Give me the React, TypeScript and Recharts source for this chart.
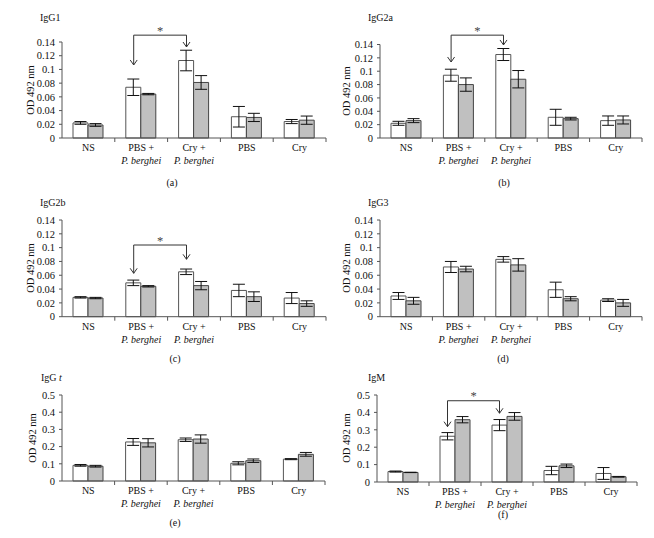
import React from 'react';
import { BarChart, Bar, XAxis, YAxis, ErrorBar, ReferenceLine } from 'recharts';

const FONT = '"Liberation Serif", "DejaVu Serif", serif';
const TXT = '#111';
const AX = '#555';

// ---------- data ----------
const categories = ['NS', 'PBS + P. berghei', 'Cry + P. berghei', 'PBS', 'Cry'];
const labelTop = ['NS', 'PBS +', 'Cry +', 'PBS', 'Cry'];
const labelBottom = ['', 'P. berghei', 'P. berghei', '', ''];

const iggTicks = [0, 0.02, 0.04, 0.06, 0.08, 0.1, 0.12, 0.14];
const totalTicks = [0, 0.1, 0.2, 0.3, 0.4, 0.5];

const igg1White = [0.022, 0.074, 0.113, 0.031, 0.024];
const igg1WhiteErr = [0.002, 0.012, 0.015, 0.015, 0.003];
const igg1Gray = [0.019, 0.064, 0.081, 0.030, 0.026];
const igg1GrayErr = [0.002, 0.001, 0.010, 0.006, 0.006];
const igg1Bracket = [0.150, 0.1065, 0.1327];

const igg2aWhite = [0.022, 0.094, 0.125, 0.031, 0.026];
const igg2aWhiteErr = [0.003, 0.009, 0.009, 0.012, 0.007];
const igg2aGray = [0.026, 0.080, 0.088, 0.029, 0.027];
const igg2aGrayErr = [0.003, 0.010, 0.013, 0.002, 0.006];
const igg2aBracket = [0.154, 0.1138, 0.1393];

const igg2bWhite = [0.028, 0.049, 0.065, 0.038, 0.027];
const igg2bWhiteErr = [0.001, 0.004, 0.004, 0.009, 0.008];
const igg2bGray = [0.027, 0.044, 0.045, 0.029, 0.019];
const igg2bGrayErr = [0.001, 0.001, 0.006, 0.007, 0.004];
const igg2bBracket = [0.1038, 0.0628, 0.0831];

const igg3White = [0.030, 0.072, 0.083, 0.039, 0.024];
const igg3WhiteErr = [0.005, 0.008, 0.004, 0.011, 0.002];
const igg3Gray = [0.023, 0.069, 0.075, 0.026, 0.020];
const igg3GrayErr = [0.005, 0.004, 0.009, 0.003, 0.005];

const iggtWhite = [0.091, 0.227, 0.240, 0.103, 0.127];
const iggtWhiteErr = [0.005, 0.020, 0.010, 0.009, 0.003];
const iggtGray = [0.086, 0.222, 0.244, 0.118, 0.155];
const iggtGrayErr = [0.005, 0.024, 0.024, 0.010, 0.011];

const igmWhite = [0.060, 0.263, 0.327, 0.066, 0.049];
const igmWhiteErr = [0.003, 0.021, 0.032, 0.024, 0.034];
const igmGray = [0.055, 0.358, 0.377, 0.093, 0.030];
const igmGrayErr = [0.001, 0.018, 0.022, 0.010, 0.002];
const igmBracket = [0.467, 0.318, 0.395];

// ---------- helpers ----------
function buildRows(white: number[], whiteErr: number[], gray: number[], grayErr: number[]) {
  return categories.map((c, i) => ({ name: c, w: white[i], we: whiteErr[i], g: gray[i], ge: grayErr[i] }));
}

const BAR = 15;
const SHIFT = -BAR / 2;
const TICK_SIZE = 4;

function makeCatTick(band: number) {
  return (props: any) => {
    const { x, y, payload } = props;
    const i = categories.indexOf(payload.value);
    const axisY = y - TICK_SIZE;
    return (
      <g>
        <line x1={x + band / 2} x2={x + band / 2} y1={axisY} y2={axisY + 4} stroke={AX} strokeWidth={1} />
        <text x={x} y={axisY + 13} textAnchor="middle" fontFamily={FONT} fontSize={10} fill={TXT}>
          {labelTop[i]}
        </text>
        {labelBottom[i] ? (
          <text x={x} y={axisY + 26} textAnchor="middle" fontFamily={FONT} fontSize={10} fontStyle="italic" fill={TXT}>
            {labelBottom[i]}
          </text>
        ) : null}
      </g>
    );
  };
}

const hShape = (p: any) => {
  const x1 = p.x1 + SHIFT;
  const x2 = p.x2 + SHIFT;
  return (
    <g>
      <line x1={x1} y1={p.y1} x2={x2} y2={p.y2} stroke="#333" strokeWidth={1} />
      <text x={(x1 + x2) / 2} y={p.y1 - 0.5} textAnchor="middle" fontFamily={FONT} fontSize={12.5} fill="#444">
        *
      </text>
    </g>
  );
};

const legShape = (p: any) => {
  const x = p.x1 + SHIFT;
  return (
    <g>
      <line x1={x} y1={p.y1} x2={x} y2={p.y2} stroke="#333" strokeWidth={1} />
      <polyline points={`${x - 3.5},${p.y2 - 5} ${x},${p.y2} ${x + 3.5},${p.y2 - 5}`} fill="none" stroke="#333" strokeWidth={1} />
    </g>
  );
};

type PanelProps = {
  left: number;
  top: number;
  height: number;
  plotLeft: number;
  plotRight: number;
  plotTop: number;
  plotBottom: number;
  rows: any[];
  ticks: number[];
  domainMax: number;
  bracket?: number[];
};

function Panel({ left, top, height, plotLeft, plotRight, plotTop, plotBottom, rows, ticks, domainMax, bracket }: PanelProps) {
  const W = 327;
  const xAxisH = 40;
  const margin = {
    top: plotTop - top,
    left: 0,
    right: left + W - plotRight,
    bottom: top + height - plotBottom - xAxisH,
  };
  const yAxisW = plotLeft - left;
  const band = (plotRight - plotLeft) / categories.length;
  return (
    <div style={{ position: 'absolute', left, top, width: W, height }}>
      <BarChart width={W} height={height} data={rows} margin={margin} barGap={0} barSize={BAR}>
        <XAxis
          dataKey="name"
          height={xAxisH}
          interval={0}
          tickSize={TICK_SIZE}
          tickMargin={0}
          tickLine={false}
          axisLine={{ stroke: AX }}
          tick={makeCatTick(band)}
        />
        <YAxis
          width={yAxisW}
          domain={[0, domainMax]}
          ticks={ticks}
          interval={0}
          tickSize={3}
          tickMargin={4}
          axisLine={{ stroke: AX }}
          tickLine={{ stroke: AX }}
          tick={{ fontSize: 10.5, fill: TXT, fontFamily: FONT }}
          tickFormatter={(v: number) => String(v)}
        />
        <Bar dataKey="w" fill="#ffffff" stroke="#555" strokeWidth={1} isAnimationActive={false}>
          <ErrorBar dataKey="we" width={6} stroke="#111" strokeWidth={1} direction="y" />
        </Bar>
        <Bar dataKey="g" fill="#c0c0c0" stroke="#444" strokeWidth={1} isAnimationActive={false}>
          <ErrorBar dataKey="ge" width={6} stroke="#111" strokeWidth={1} direction="y" />
        </Bar>
        {bracket ? (
          <ReferenceLine
            segment={[{ x: categories[1], y: bracket[0] }, { x: categories[2], y: bracket[0] }]}
            position="middle"
            ifOverflow="visible"
            shape={hShape}
          />
        ) : null}
        {bracket ? (
          <ReferenceLine
            segment={[{ x: categories[1], y: bracket[0] }, { x: categories[1], y: bracket[1] }]}
            position="middle"
            ifOverflow="visible"
            shape={legShape}
          />
        ) : null}
        {bracket ? (
          <ReferenceLine
            segment={[{ x: categories[2], y: bracket[0] }, { x: categories[2], y: bracket[2] }]}
            position="middle"
            ifOverflow="visible"
            shape={legShape}
          />
        ) : null}
      </BarChart>
    </div>
  );
}

const titles = [
  { x: 40, y: 21, text: 'IgG1' },
  { x: 368, y: 21, text: 'IgG2a' },
  { x: 40, y: 206, text: 'IgG2b' },
  { x: 368, y: 206, text: 'IgG3' },
  { x: 368, y: 381, text: 'IgM' },
];
const captions = [
  { x: 172, y: 186, text: '(a)' },
  { x: 504, y: 186, text: '(b)' },
  { x: 175, y: 362, text: '(c)' },
  { x: 503, y: 362, text: '(d)' },
  { x: 175, y: 526, text: '(e)' },
  { x: 503, y: 518, text: '(f)' },
];
const yLabels = [
  { x: 30, y: 90 },
  { x: 346, y: 91 },
  { x: 30, y: 268 },
  { x: 346, y: 268 },
  { x: 32, y: 438 },
  { x: 346, y: 438 },
];

export default function App() {
  return (
    <div style={{ position: 'absolute', left: 0, top: 0, width: 654, height: 538, overflow: 'hidden', background: '#fff' }}>
      <Panel left={0} top={0} height={180} plotLeft={62} plotRight={326} plotTop={42} plotBottom={138}
        rows={buildRows(igg1White, igg1WhiteErr, igg1Gray, igg1GrayErr)} ticks={iggTicks} domainMax={0.14} bracket={igg1Bracket} />
      <Panel left={327} top={0} height={180} plotLeft={380} plotRight={642} plotTop={44.5} plotBottom={138}
        rows={buildRows(igg2aWhite, igg2aWhiteErr, igg2aGray, igg2aGrayErr)} ticks={iggTicks} domainMax={0.14} bracket={igg2aBracket} />
      <Panel left={0} top={180} height={180} plotLeft={62} plotRight={326} plotTop={220} plotBottom={316.7}
        rows={buildRows(igg2bWhite, igg2bWhiteErr, igg2bGray, igg2bGrayErr)} ticks={iggTicks} domainMax={0.14} bracket={igg2bBracket} />
      <Panel left={327} top={180} height={180} plotLeft={380} plotRight={642} plotTop={220} plotBottom={316.7}
        rows={buildRows(igg3White, igg3WhiteErr, igg3Gray, igg3GrayErr)} ticks={iggTicks} domainMax={0.14} />
      <Panel left={0} top={360} height={170} plotLeft={62} plotRight={325} plotTop={395} plotBottom={481}
        rows={buildRows(iggtWhite, iggtWhiteErr, iggtGray, iggtGrayErr)} ticks={totalTicks} domainMax={0.5} />
      <Panel left={327} top={360} height={170} plotLeft={377} plotRight={637} plotTop={395} plotBottom={482}
        rows={buildRows(igmWhite, igmWhiteErr, igmGray, igmGrayErr)} ticks={totalTicks} domainMax={0.5} bracket={igmBracket} />
      <svg width={654} height={538} style={{ position: 'absolute', left: 0, top: 0, pointerEvents: 'none' }}>
        {titles.map((t) => (
          <text key={t.text} x={t.x} y={t.y} fontFamily={FONT} fontSize={10} fill={TXT}>{t.text}</text>
        ))}
        <text x={41} y={381} fontFamily={FONT} fontSize={10} fill={TXT}>
          IgG <tspan fontStyle="italic">t</tspan>
        </text>
        {captions.map((c) => (
          <text key={c.text} x={c.x} y={c.y} textAnchor="middle" fontFamily={FONT} fontSize={10} fill={TXT}>{c.text}</text>
        ))}
        {yLabels.map((l, i) => (
          <text key={i} transform={`translate(${l.x},${l.y}) rotate(-90)`} textAnchor="middle" dy="0.35em" fontFamily={FONT} fontSize={10.5} fill={TXT}>
            OD 492 nm
          </text>
        ))}
      </svg>
    </div>
  );
}
